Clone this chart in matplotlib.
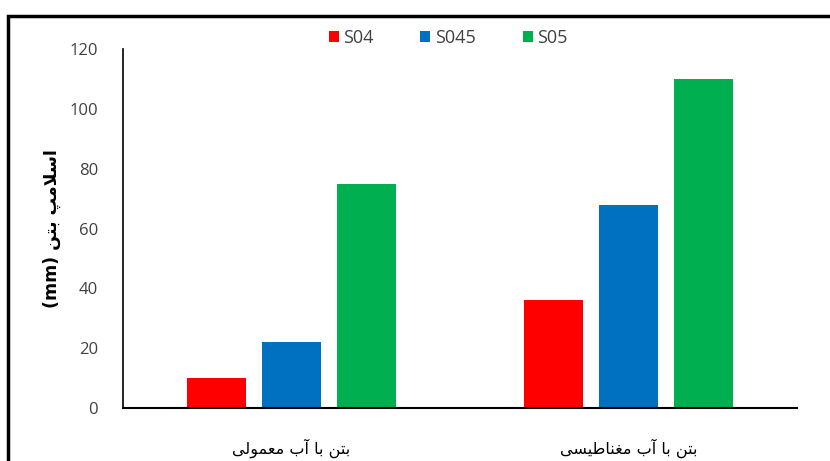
import numpy as np
import matplotlib
matplotlib.use("Agg")
import matplotlib.pyplot as plt
from matplotlib.patches import Rectangle

categories = ["بتن با آب معمولی", "بتن با آب مغناطیسی"]
series_names = ["S04", "S045", "S05"]
s04 = [10, 36]
s045 = [22, 68]
s05 = [75, 110]
y_ticks = [0, 20, 40, 60, 80, 100, 120]
y_label = "اسلامپ بتن"

# arabic letters: isolated, final, initial, medial (None = no joining to next)
FORMS = {
    "ا": ("\uFE8D", "\uFE8E", None, None),
    "آ": ("\uFE81", "\uFE82", None, None),
    "ب": ("\uFE8F", "\uFE90", "\uFE91", "\uFE92"),
    "ت": ("\uFE95", "\uFE96", "\uFE97", "\uFE98"),
    "ن": ("\uFEE5", "\uFEE6", "\uFEE7", "\uFEE8"),
    "س": ("\uFEB1", "\uFEB2", "\uFEB3", "\uFEB4"),
    "ل": ("\uFEDD", "\uFEDE", "\uFEDF", "\uFEE0"),
    "م": ("\uFEE1", "\uFEE2", "\uFEE3", "\uFEE4"),
    "پ": ("\uFB56", "\uFB57", "\uFB58", "\uFB59"),
    "ع": ("\uFEC9", "\uFECA", "\uFECB", "\uFECC"),
    "غ": ("\uFECD", "\uFECE", "\uFECF", "\uFED0"),
    "و": ("\uFEED", "\uFEEE", None, None),
    "ی": ("\uFBFC", "\uFBFD", "\uFBFE", "\uFBFF"),
    "ط": ("\uFEC1", "\uFEC2", "\uFEC3", "\uFEC4"),
}


def shape(text):
    # join letters, lam-alef ligature, then reverse for left-to-right drawing
    chars = list(text)
    out = []
    i = 0
    while i < len(chars):
        c = chars[i]
        if c not in FORMS:
            out.append(c)
            i += 1
            continue
        prev = chars[i - 1] if i > 0 else None
        joins_prev = prev in FORMS and FORMS[prev][2] is not None
        if c == "ل" and i + 1 < len(chars) and chars[i + 1] == "ا":
            out.append("\uFEFC" if joins_prev else "\uFEFB")
            i += 2
            continue
        nxt = chars[i + 1] if i + 1 < len(chars) else None
        joins_next = FORMS[c][2] is not None and nxt in FORMS
        f = FORMS[c]
        if joins_prev and joins_next:
            out.append(f[3])
        elif joins_prev:
            out.append(f[1])
        elif joins_next:
            out.append(f[2])
        else:
            out.append(f[0])
        i += 1
    return "".join(out[::-1])


colors = ["#FF0000", "#0070C0", "#00B050"]
fa_font = ["DejaVu Sans"]
num_font = ["Open Sans", "DejaVu Sans"]
grey = "#404040"

fig = plt.figure(figsize=(8.3, 4.61), dpi=100)
ax = fig.add_axes([123 / 830, 1 - 408 / 461, 674 / 830, 359 / 461])

x = np.arange(len(categories))
width = 0.175
step = 0.2225
for k, (vals, name) in enumerate(zip([s04, s045, s05], series_names)):
    ax.bar(x + (k - 1) * step, vals, width, color=colors[k], label=name)

ax.set_xlim(-0.5, 1.5)
ax.set_ylim(0, 120)
ax.set_yticks(y_ticks)
ax.set_yticklabels([str(v) for v in y_ticks], family=num_font, fontsize=12, color=grey)
ax.set_xticks(x)
ax.set_xticklabels([shape(c) for c in categories], family=fa_font, fontsize=11.5,
                   color="black")
ax.tick_params(axis="y", length=0, pad=18)
ax.tick_params(axis="x", length=0, pad=22)
for s in ["top", "right"]:
    ax.spines[s].set_visible(False)
ax.spines["left"].set_color("black")
ax.spines["left"].set_linewidth(1.2)
ax.spines["bottom"].set_color("black")
ax.spines["bottom"].set_linewidth(1.5)

ax.set_ylabel("(mm) " + shape(y_label), family=fa_font, fontsize=12.5,
              fontweight="semibold", labelpad=6)

leg = fig.legend(loc="center", bbox_to_anchor=(448 / 830, 1 - 38 / 461), ncol=3, frameon=False,
                 prop={"family": num_font, "size": 13}, handlelength=0.55, handleheight=0.55,
                 columnspacing=2.6, handletextpad=0.25)
for t in leg.get_texts():
    t.set_color(grey)

fig.patches.append(Rectangle((8 / 830, -0.1), 1.2, 1 - 16 / 461 + 0.1, transform=fig.transFigure,
                             fill=False, edgecolor="black", linewidth=2.5))

fig.savefig("out.png", dpi=100)
